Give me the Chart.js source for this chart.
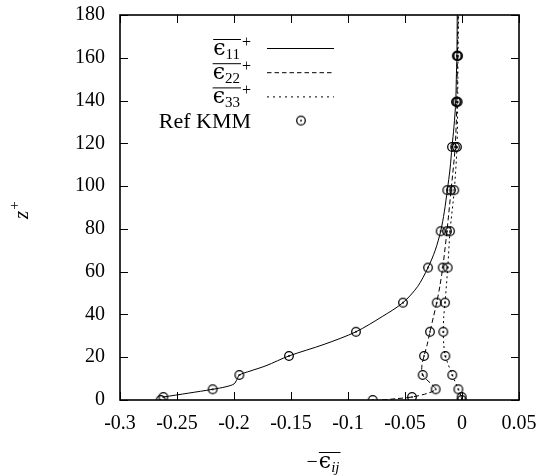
<!DOCTYPE html>
<html><head><meta charset="utf-8">
<script src="https://cdn.jsdelivr.net/npm/chart.js@4"></script>
<style>html,body{margin:0;padding:0;background:#fff}#c{display:block}</style>
</head><body>
<canvas id="c" width="543" height="476"></canvas>
<script>
// ---- data ----
const xTicks = [-0.3, -0.25, -0.2, -0.15, -0.1, -0.05, 0, 0.05];
const yTicks = [0, 20, 40, 60, 80, 100, 120, 140, 160, 180];

const refZ   = [0, 1.4, 5, 11.7, 20.6, 31.9, 45.5, 61.9, 78.9, 98.1, 118.3, 139.4, 160.9];
const e11Ref = [-0.2643, -0.262, -0.2187, -0.1953, -0.1518, -0.093, -0.0518, -0.0298, -0.0187, -0.0129, -0.0088, -0.0053, -0.0045];
const e22Ref = [-0.0783, -0.0439, -0.0231, -0.0345, -0.0333, -0.0281, -0.0222, -0.0169, -0.0132, -0.0096, -0.006, -0.0045, -0.004];
const e33Ref = [-0.0003, -0.0003, -0.0032, -0.0085, -0.0146, -0.0164, -0.0149, -0.0125, -0.0105, -0.0068, -0.0044, -0.0038, -0.0035];

const e11Z = [1.4, 3.2, 5, 6.2, 7.5, 9.5, 11.7, 13.5, 16, 20.6, 26, 31.9, 39, 45.5, 53, 61.9, 70, 78.9, 88, 98.1, 108, 118.3, 128, 139.4, 150, 160.9, 170, 180];
const e11X = [-0.262, -0.240, -0.2187, -0.207, -0.2, -0.1975, -0.1953, -0.186, -0.172, -0.1518, -0.121, -0.093, -0.07, -0.0518, -0.039, -0.0298, -0.0235, -0.0187, -0.0155, -0.0129, -0.0105, -0.0088, -0.007, -0.0055, -0.005, -0.0045, -0.0043, -0.0042];

const e22Z = [0, 0.6, 1.4, 3, 5, 7.5, 11.7, 16, 20.6, 26, 31.9, 39, 45.5, 53, 61.9, 78.9, 98.1, 118.3, 139.4, 160.9, 180];
const e22X = [-0.070, -0.058, -0.0439, -0.031, -0.0231, -0.027, -0.0345, -0.0352, -0.0333, -0.0305, -0.0281, -0.025, -0.0222, -0.0195, -0.0169, -0.0132, -0.0096, -0.006, -0.0045, -0.004, -0.0035];

const e33Z = [0, 1.4, 5, 11.7, 20.6, 26, 31.9, 39, 45.5, 61.9, 78.9, 98.1, 118.3, 139.4, 160.9, 180];
const e33X = [-0.0003, -0.0006, -0.0032, -0.0085, -0.0146, -0.016, -0.0164, -0.016, -0.0149, -0.0125, -0.0105, -0.0068, -0.0044, -0.0038, -0.0035, -0.003];

// ---- helpers ----
const pts = (xs, zs) => xs.map((x, i) => ({x: x, y: zs[i]}));
const FONT = "'Liberation Serif', 'DejaVu Serif', serif";

function makeMarker() {
  const c = document.createElement('canvas');
  c.width = 12; c.height = 12;
  const g = c.getContext('2d');
  g.strokeStyle = '#000'; g.lineWidth = 1.25;
  g.beginPath(); g.arc(6, 6, 4.3, 0, Math.PI * 2); g.stroke();
  g.fillStyle = '#000';
  g.beginPath(); g.arc(6, 6, 0.9, 0, Math.PI * 2); g.fill();
  return c;
}
const marker = makeMarker();

function lineDs(xs, zs, dash) {
  return {data: pts(xs, zs), showLine: true, borderColor: '#000', borderWidth: 1,
          borderDash: dash, pointRadius: 0, tension: 0.3, fill: false};
}
function refDs(xs) {
  return {data: pts(xs, refZ), showLine: false, pointStyle: marker, pointRadius: 4,
          borderColor: '#000', backgroundColor: 'rgba(0,0,0,0)'};
}

// overlined epsilon with subscript and optional superscript +, right aligned at rx
function drawEpsLabel(ctx, rx, base, sub, withPlus, italicSub) {
  const fMain = "22px 'DejaVu Serif', serif";
  const fSub = (italicSub ? "italic " : "") + "15px " + FONT;
  const fSup = "16px " + FONT;
  ctx.font = fMain; const wE = ctx.measureText('ϵ').width;
  ctx.font = fSub; const wS = ctx.measureText(sub).width;
  ctx.font = fSup; const wP = withPlus ? ctx.measureText('+').width : 0;
  const x0 = rx - wP - (withPlus ? 2 : 0) - wE - wS;
  ctx.textAlign = 'left'; ctx.textBaseline = 'alphabetic';
  ctx.font = fMain; ctx.fillText('ϵ', x0, base);
  ctx.font = fSub; ctx.fillText(sub, x0 + wE, base + 4);
  if (withPlus) { ctx.font = fSup; ctx.fillText('+', x0 + wE + wS + 2, base - 8); }
  ctx.beginPath(); ctx.lineWidth = 1;
  ctx.moveTo(x0, base - 15.5); ctx.lineTo(x0 + wE + wS + 1, base - 15.5); ctx.stroke();
  return x0;
}

const decor = {
  id: 'decor',
  afterDraw(chart) {
    const ctx = chart.ctx, a = chart.chartArea;
    const xs = chart.scales.x, ys = chart.scales.y;
    ctx.save();
    ctx.strokeStyle = '#000'; ctx.fillStyle = '#000';
    // inward ticks
    ctx.lineWidth = 1;
    ctx.beginPath();
    xs.ticks.forEach(t => {
      const p = Math.round(xs.getPixelForValue(t.value)) + 0.5;
      ctx.moveTo(p, a.bottom); ctx.lineTo(p, a.bottom - 8);
      ctx.moveTo(p, a.top); ctx.lineTo(p, a.top + 8);
    });
    ys.ticks.forEach(t => {
      const p = Math.round(ys.getPixelForValue(t.value)) + 0.5;
      ctx.moveTo(a.left, p); ctx.lineTo(a.left + 8, p);
      ctx.moveTo(a.right, p); ctx.lineTo(a.right - 8, p);
    });
    ctx.stroke();
    // frame
    ctx.lineWidth = 1.6;
    ctx.strokeRect(a.left, a.top, a.right - a.left, a.bottom - a.top);

    // legend
    const rx = 251, lx0 = 267, lx1 = 334;
    const rows = [48, 72.2, 96.4, 120.6];
    const subs = ['11', '22', '33'];
    const dashes = [[], [4.5, 3], [2, 4]];
    for (let i = 0; i < 3; i++) {
      drawEpsLabel(ctx, rx, rows[i] + 7, subs[i], true, false);
      ctx.beginPath(); ctx.lineWidth = 1; ctx.setLineDash(dashes[i]);
      ctx.moveTo(lx0, rows[i] + 0.5); ctx.lineTo(lx1, rows[i] + 0.5); ctx.stroke();
      ctx.setLineDash([]);
    }
    ctx.font = "22px " + FONT; ctx.textAlign = 'right'; ctx.textBaseline = 'alphabetic';
    ctx.fillText('Ref KMM', rx, rows[3] + 7);
    ctx.drawImage(marker, 301 - 6, rows[3] - 6);

    // x title:  −ϵij (overlined)
    const cx = (a.left + a.right) / 2;
    ctx.font = "20px " + FONT; ctx.textAlign = 'left';
    const wMinus = ctx.measureText('−').width;
    const xStart = drawEpsLabel(ctx, cx + 20, 468, 'ij', false, true);
    ctx.font = "20px " + FONT; ctx.textAlign = 'left';
    ctx.fillText('−', xStart - wMinus - 1, 468);

    // y title: z+ rotated
    ctx.save();
    ctx.translate(28, 219);
    ctx.rotate(-Math.PI / 2);
    ctx.font = "italic 21px " + FONT; ctx.textAlign = 'left';
    const wz = ctx.measureText('z').width;
    ctx.fillText('z', 0, 0);
    ctx.font = "15px " + FONT;
    ctx.fillText('+', wz + 1, -9);
    ctx.restore();

    ctx.restore();
  }
};

new Chart(document.getElementById('c'), {
  type: 'scatter',
  data: {
    datasets: [
      lineDs(e11X, e11Z, []),
      lineDs(e22X, e22Z, [5, 3]),
      lineDs(e33X, e33Z, [2, 3]),
      refDs(e11Ref), refDs(e22Ref), refDs(e33Ref)
    ]
  },
  options: {
    responsive: false, devicePixelRatio: 1, animation: false,
    layout: {padding: {top: 15, right: 24, left: 0, bottom: 0}},
    plugins: {legend: {display: false}, tooltip: {enabled: false}},
    scales: {
      x: {
        type: 'linear', min: -0.3, max: 0.05,
        afterBuildTicks: s => { s.ticks = xTicks.map(v => ({value: v})); },
        afterFit: s => { s.height = 76; s.paddingLeft = 0; s.paddingRight = 0; },
        grid: {display: false}, border: {display: false},
        ticks: {color: '#000', padding: 4, maxRotation: 0, autoSkip: false,
                font: {family: FONT, size: 20},
                callback: v => { const r = Math.round(v * 100) / 100; return r === 0 ? '0' : String(r); }}
      },
      y: {
        type: 'linear', min: 0, max: 180,
        afterBuildTicks: s => { s.ticks = yTicks.map(v => ({value: v})); },
        afterFit: s => { s.width = 120; s.paddingTop = 0; s.paddingBottom = 0; },
        grid: {display: false}, border: {display: false},
        ticks: {color: '#000', padding: 7, autoSkip: false,
                font: {family: FONT, size: 20}}
      }
    }
  },
  plugins: [decor]
});
</script>
</body></html>
